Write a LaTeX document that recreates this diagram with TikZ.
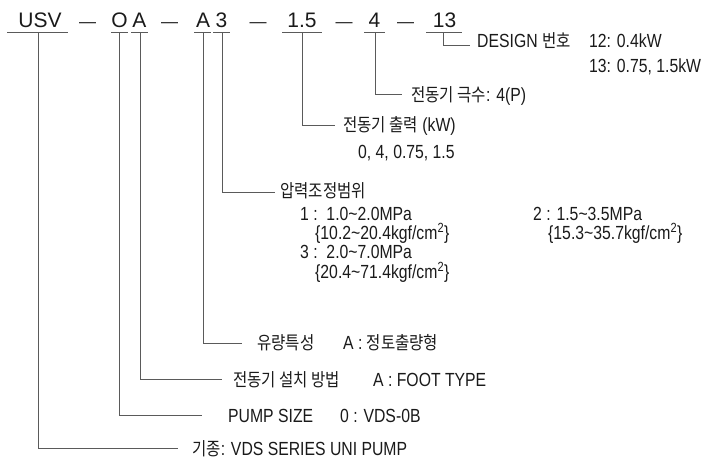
\documentclass[tikz,border=0pt]{standalone}
\usepackage{fontspec}
\setmainfont{Liberation Sans}[FakeStretch=0.83]
\newfontfamily\codefont{Liberation Sans}
\newfontfamily\kr{Noto Sans CJK KR}[Scale=0.95,FakeStretch=0.86]
\definecolor{ink}{HTML}{1A1A1A}
\definecolor{wire}{HTML}{5A5A5A}
\begin{document}
\begin{tikzpicture}[x=1pt,y=-1pt,
  code/.style={anchor=base,inner sep=0pt,font=\codefont\fontsize{21}{21}\selectfont,text=ink},
  dashtxt/.style={anchor=base,inner sep=0pt,font=\codefont\fontsize{17}{17}\selectfont,text=ink},
  lbl/.style={anchor=base west,inner sep=0pt,font=\fontsize{19}{19}\selectfont,text=ink},
  uline/.style={draw=wire,line width=0.9pt},
  conn/.style={draw=wire,line width=0.9pt}]
\useasboundingbox (0,0) rectangle (708,460);

% code row
\node[code] (cUSV) at (40,28) {USV};
\node[dashtxt] (d1) at (87.5,28) {—};
\node[code] (cO) at (119.5,28) {O};
\node[code] (cA) at (139.5,28) {A};
\node[dashtxt] (d2) at (169.5,28) {—};
\node[code] (cA2) at (203,28) {A};
\node[code] (c3) at (221.5,28) {3};
\node[dashtxt] (d3) at (258,28) {—};
\node[code] (c15) at (302,28) {1.5};
\node[dashtxt] (d4) at (344,28) {—};
\node[code] (c4) at (374.5,28) {4};
\node[dashtxt] (d5) at (405.5,28) {—};
\node[code] (c13) at (444.5,28) {13};

% underlines
\draw[uline] (7,32.5) -- (68,32.5);
\draw[uline] (111,32.5) -- (128,32.5);
\draw[uline] (131,32.5) -- (148,32.5);
\draw[uline] (194,32.5) -- (211,32.5);
\draw[uline] (213,32.5) -- (230,32.5);
\draw[uline] (282,32.5) -- (322,32.5);
\draw[uline] (364,32.5) -- (385,32.5);
\draw[uline] (426,32.5) -- (462,32.5);

% underline tap points
\coordinate (uUSV) at (38,32.5);
\coordinate (uO) at (119,32.5);
\coordinate (uA) at (140,32.5);
\coordinate (uA2) at (203,32.5);
\coordinate (u3) at (222,32.5);
\coordinate (u15) at (302,32.5);
\coordinate (u4) at (375,32.5);
\coordinate (u13) at (443,32.5);

% connector free ends
\coordinate (eUSV) at (178,448);
\coordinate (eO) at (202,415);
\coordinate (eA) at (222,379);
\coordinate (eA2) at (242,343);
\coordinate (e3) at (275,192);
\coordinate (e15) at (335,125);
\coordinate (e4) at (402,94);
\coordinate (e13) at (470,45);

\draw[conn] (uUSV) |- (eUSV);
\draw[conn] (uO) |- (eO);
\draw[conn] (uA) |- (eA);
\draw[conn] (uA2) |- (eA2);
\draw[conn] (u3) |- (e3);
\draw[conn] (u15) |- (e15);
\draw[conn] (u4) |- (e4);
\draw[conn] (u13) |- (e13);

% labels
\node[lbl] (lDesign) at (477,48) {DESIGN {\kr 번호}};
\node[lbl] (l12) at (589,48) {12: 0.4kW};
\node[lbl] (l13) at (589,72) {13: 0.75, 1.5kW};
\node[lbl] (lPole) at (411,101) {{\kr 전동기 극수}: 4(P)};
\node[lbl] (lOut) at (343,131) {{\kr 전동기 출력} (kW)};
\node[lbl] (lOutV) at (358,158) {0, 4, 0.75, 1.5};
\node[lbl] (lPress) at (280,197) {{\kr 압력조정범위}};
\node[lbl] (p1) at (300,220) {1 :\ \ 1.0\textasciitilde2.0MPa};
\node[lbl] (p1b) at (315,239) {\{10.2\textasciitilde20.4kgf/cm\textsuperscript{2}\}};
\node[lbl] (p3) at (300,258) {3 :\ \ 2.0\textasciitilde7.0MPa};
\node[lbl] (p3b) at (315,278) {\{20.4\textasciitilde71.4kgf/cm\textsuperscript{2}\}};
\node[lbl] (p2) at (533,220) {2 : 1.5\textasciitilde3.5MPa};
\node[lbl] (p2b) at (548,239) {\{15.3\textasciitilde35.7kgf/cm\textsuperscript{2}\}};
\node[lbl] (lFlow) at (257,349) {{\kr 유량특성}};
\node[lbl] (lFlowV) at (343,349) {A : {\kr 정토출량형}};
\node[lbl] (lMount) at (233,386) {{\kr 전동기 설치 방법}};
\node[lbl] (lMountV) at (373,386) {A : FOOT TYPE};
\node[lbl] (lSize) at (228,422) {PUMP SIZE};
\node[lbl] (lSizeV) at (340,422) {0 : VDS-0B};
\node[lbl] (lKind) at (192,455) {{\kr 기종}: VDS SERIES UNI PUMP};
\end{tikzpicture}
\end{document}
